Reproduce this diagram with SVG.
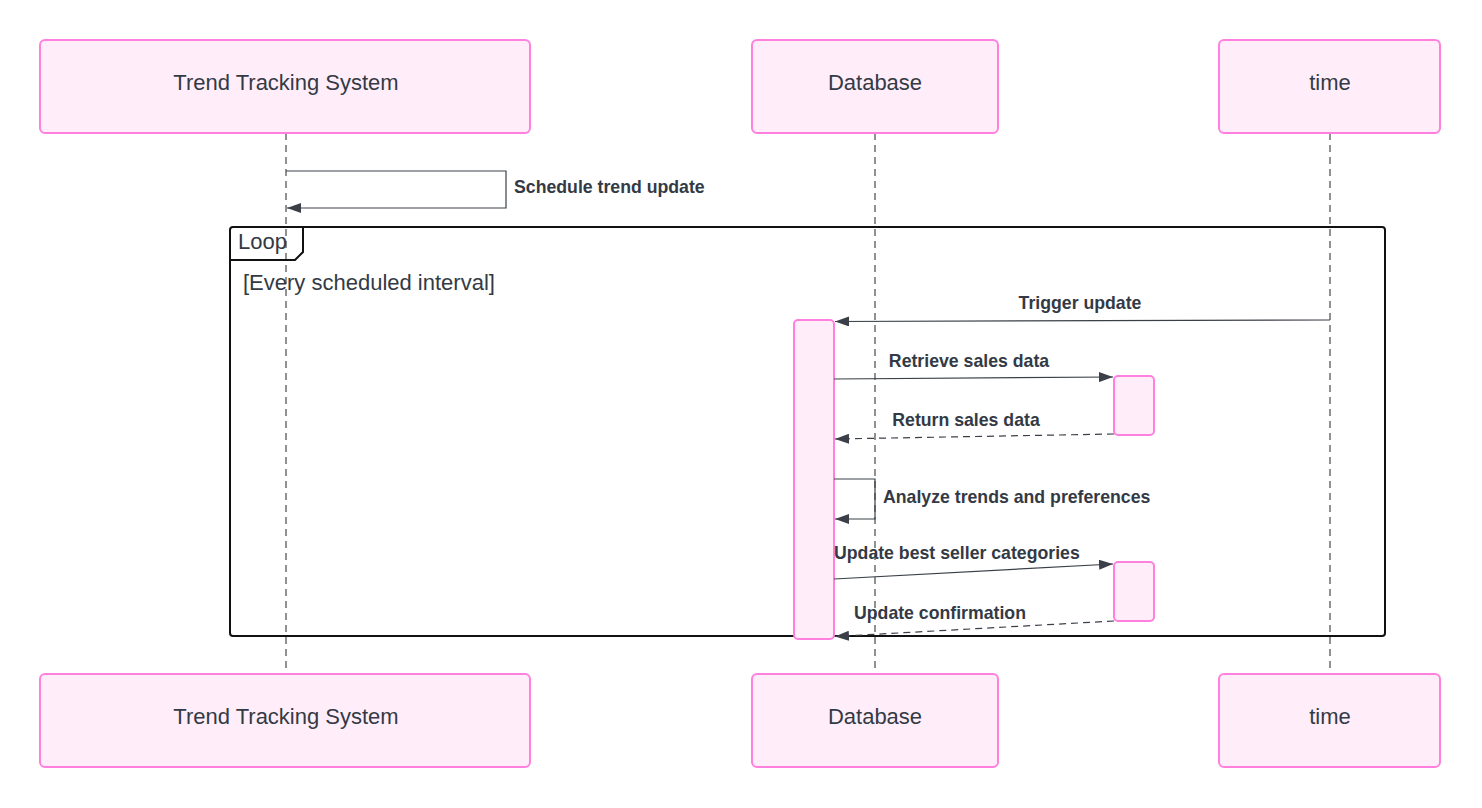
<svg xmlns="http://www.w3.org/2000/svg" width="1482" height="808" viewBox="0 0 1482 808">
<style>
.actor{fill:#ffeefa;stroke:#ff80df;stroke-width:2}
.act{fill:#ffeefa;stroke:#ff80df;stroke-width:2}
.name{font-family:"Liberation Sans",Arial,sans-serif;font-size:22px;fill:#333a45;text-anchor:middle}
.life{stroke:#222;stroke-width:1;stroke-dasharray:7,5;fill:none}
.msg{stroke:#3b4048;stroke-width:1.2;fill:none}
.dash{stroke-dasharray:7,5}
.lbl{font-family:"Liberation Sans",Arial,sans-serif;font-size:17.7px;font-weight:bold;fill:#333a45}
.frame{fill:none;stroke:#111;stroke-width:2}
.ftxt{font-family:"Liberation Sans",Arial,sans-serif;font-size:22px;fill:#333a45}
</style>
<defs>
<marker id="ah" viewBox="0 0 14 10" refX="14" refY="5" markerWidth="14" markerHeight="10" markerUnits="userSpaceOnUse" orient="auto">
<path d="M0,0 L14,5 L0,10 Z" fill="#3b4048"/>
</marker>
</defs>
<rect width="1482" height="808" fill="#fff"/>
<g id="lifelines">
<line class="life" x1="286" y1="133" x2="286" y2="674"/>
<line class="life" x1="875" y1="133" x2="875" y2="674"/>
<line class="life" x1="1330" y1="133" x2="1330" y2="674"/>
</g>
<g id="loop">
<rect class="frame" x="230" y="227" width="1155" height="409" rx="3"/>
<path class="frame" d="M230,260 L295,260 L303,252 L303,227"/>
<text class="ftxt" x="238" y="249">Loop</text>
<text class="ftxt" x="243" y="290">[Every scheduled interval]</text>
</g>
<g id="actor-tts-top"><rect class="actor" x="40" y="40" width="490" height="93" rx="5"/><text class="name" x="286" y="90">Trend Tracking System</text></g>
<g id="actor-db-top"><rect class="actor" x="752" y="40" width="246" height="93" rx="5"/><text class="name" x="875" y="90">Database</text></g>
<g id="actor-time-top"><rect class="actor" x="1219" y="40" width="221" height="93" rx="5"/><text class="name" x="1330" y="90">time</text></g>
<g id="actor-tts-bottom"><rect class="actor" x="40" y="674" width="490" height="93" rx="5"/><text class="name" x="286" y="724">Trend Tracking System</text></g>
<g id="actor-db-bottom"><rect class="actor" x="752" y="674" width="246" height="93" rx="5"/><text class="name" x="875" y="724">Database</text></g>
<g id="actor-time-bottom"><rect class="actor" x="1219" y="674" width="221" height="93" rx="5"/><text class="name" x="1330" y="724">time</text></g>
<g id="activation-db"><rect class="act" x="794" y="320" width="40" height="319" rx="4"/></g>
<g id="activation-2"><rect class="act" x="1114" y="376" width="40" height="59" rx="4"/></g>
<g id="activation-3"><rect class="act" x="1114" y="562" width="40" height="59" rx="4"/></g>
<g id="connectors">
<path class="msg" d="M286,171 L506,171 L506,208 L287,208" marker-end="url(#ah)"/>
<line class="msg" x1="1330" y1="320" x2="835" y2="321.5" marker-end="url(#ah)"/>
<line class="msg" x1="834" y1="379" x2="1113" y2="377" marker-end="url(#ah)"/>
<line class="msg dash" x1="1114" y1="434" x2="835" y2="439" marker-end="url(#ah)"/>
<path class="msg" d="M834,479 L875,479 L875,519 L835,519" marker-end="url(#ah)"/>
<line class="msg" x1="834" y1="579" x2="1113" y2="564" marker-end="url(#ah)"/>
<line class="msg dash" x1="1114" y1="621" x2="835" y2="636.5" marker-end="url(#ah)"/>
</g>
<g id="labels">
<text class="lbl" x="514" y="193">Schedule trend update</text>
<text class="lbl" x="1080" y="309" text-anchor="middle">Trigger update</text>
<text class="lbl" x="969" y="367" text-anchor="middle">Retrieve sales data</text>
<text class="lbl" x="966" y="426" text-anchor="middle">Return sales data</text>
<text class="lbl" x="883" y="503">Analyze trends and preferences</text>
<text class="lbl" x="834" y="559">Update best seller categories</text>
<text class="lbl" x="854" y="619">Update confirmation</text>
</g>
</svg>
